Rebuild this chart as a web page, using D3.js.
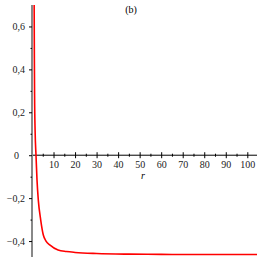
<!DOCTYPE html>
<html>
<head>
<meta charset="utf-8">
<script src="https://cdn.jsdelivr.net/npm/d3@7"></script>
<style>
  body { margin: 0; background: #fff; }
  svg { display: block; }
  svg text { font-family: "Liberation Serif", "DejaVu Serif", serif; }
  .tick text { font-size: 10px; fill: #222; }
</style>
</head>
<body>
<svg id="plot" width="262" height="262"></svg>
<script>
// values
const rValues = [1.0, 1.1, 1.2, 1.45, 1.86, 2.33, 2.93, 4.05, 5.26, 6.5, 8.4, 12.1, 16, 20, 30, 45, 60, 80, 104.5];
const fValues = [0.70, 0.45, 0.28, 0.11, 0, -0.116, -0.209, -0.302, -0.372, -0.40, -0.419, -0.442, -0.449, -0.453, -0.458, -0.461, -0.462, -0.463, -0.463];
const xTicks = [10, 20, 30, 40, 50, 60, 70, 80, 90, 100];
const xMinor = [5, 15, 25, 35, 45, 55, 65, 75, 85, 95];
const yTicks = [-0.4, -0.2, 0, 0.2, 0.4, 0.6];
const yMinor = [-0.3, -0.1, 0.1, 0.3, 0.5];
const title = "(b)";
const xLabel = "r";

d3.formatDefaultLocale({ decimal: ",", thousands: " ", grouping: [3], currency: ["", ""] });

const svg = d3.select("svg#plot");
const x = d3.scaleLinear().domain([0, 104.5]).range([32, 257]);
const y = d3.scaleLinear().domain([-0.465, 0.7]).range([255, 5]);

svg.append("defs").append("clipPath").attr("id", "clip")
  .append("rect").attr("x", 32).attr("y", 5).attr("width", 226).attr("height", 252);

// x axis
const xAxis = svg.append("g")
  .attr("transform", "translate(0," + y(0) + ")")
  .call(d3.axisBottom(x).tickValues(xTicks).tickSize(3).tickPadding(3).tickFormat(d3.format("d")));
xAxis.select(".domain").attr("d", "M" + x(0) + ",0H" + x(104.5)).attr("stroke", "#000");
xAxis.selectAll(".tick line").attr("y1", -3).attr("y2", 3);

svg.append("g")
  .attr("transform", "translate(0," + y(0) + ")")
  .call(d3.axisBottom(x).tickValues(xMinor).tickSize(1.5).tickFormat(""))
  .call(g => g.select(".domain").remove())
  .selectAll(".tick line").attr("y1", -1.5);

// y axis
const yAxis = svg.append("g")
  .attr("transform", "translate(" + x(0) + ",0)")
  .call(d3.axisLeft(y).tickValues(yTicks).tickSize(3).tickPadding(4)
    .tickFormat(d => d === 0 ? "0" : d3.format(".1f")(d)));
yAxis.select(".domain").attr("d", "M0," + y(0.7) + "V257").attr("stroke", "#888").attr("stroke-width", 2);
yAxis.selectAll(".tick").filter(d => d === 0).select("text").attr("dx", -6);

svg.append("g")
  .attr("transform", "translate(" + x(0) + ",0)")
  .call(d3.axisLeft(y).tickValues(yMinor).tickSize(1.5).tickFormat(""))
  .call(g => g.select(".domain").remove());

svg.selectAll("g").attr("font-family", null);

// curve
const pts = rValues.map((r, i) => [r, fValues[i]]);
svg.append("path")
  .datum(pts)
  .attr("clip-path", "url(#clip)")
  .attr("fill", "none")
  .attr("stroke", "#f00")
  .attr("stroke-width", 1.6)
  .attr("d", d3.line().x(d => x(d[0])).y(d => y(d[1])).curve(d3.curveMonotoneX));

svg.append("text")
  .attr("x", 131).attr("y", 13)
  .attr("text-anchor", "middle")
  .attr("font-size", 10)
  .text(title);

svg.append("text")
  .attr("x", 143).attr("y", 179)
  .attr("text-anchor", "middle")
  .attr("font-size", 10)
  .attr("font-style", "italic")
  .text(xLabel);
</script>
</body>
</html>
